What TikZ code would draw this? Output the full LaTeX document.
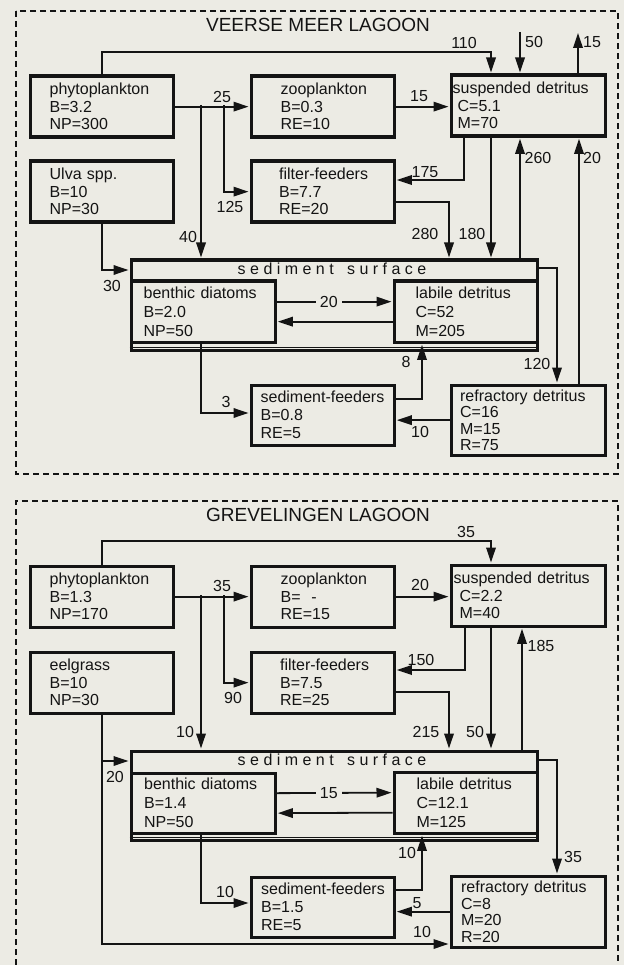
\documentclass[tikz,border=0pt]{standalone}
\usepackage{fontspec}
\setmainfont{Liberation Sans}
\usetikzlibrary{arrows.meta}

\definecolor{paper}{RGB}{236,235,228}
\definecolor{ink}{RGB}{20,20,20}

\tikzset{
  box/.style={draw=ink, line width=3.3pt, anchor=north west, inner sep=0pt,
    align=left, text=ink, font=\fontsize{16}{17.5}\selectfont},
  lskip/.style={execute at begin node={\leftskip=#1\relax}},
  flow/.style={draw=ink, line width=1.8pt, -{Triangle[length=15pt,width=9.5pt]}, shorten >=1pt},
  num/.style={text=ink, inner sep=0pt, font=\fontsize{16}{18}\selectfont},
  title/.style={text=ink, inner sep=0pt, font=\fontsize{19}{22}\selectfont},
  frame/.style={draw=ink, line width=1.3pt, dash pattern=on 6pt off 4pt},
}

\begin{document}
\begin{tikzpicture}[x=1pt, y=-1pt]
  \useasboundingbox (0,0) rectangle (624,965);
  \fill[paper] (0,0) rectangle (624,965);

  % Veerse Meer
  \begin{scope}[name prefix=v-]
    \draw[frame] (16,11) rectangle (618,474);
    \node[title] (name) at (318,25) {VEERSE MEER LAGOON};

    \node[box, text width=143pt, minimum height=61pt, lskip=19.5pt] (phyto) at (28.5,74.5) {phytoplankton\\B=3.2\\NP=300};
    \node[box, text width=143pt, minimum height=61pt, lskip=29.5pt] (zoo) at (249.5,74.5) {zooplankton\\B=0.3\\RE=10};
    \node[box, text width=154pt, minimum height=61pt, lskip=1.5pt] (susp) at (449.5,73.5) {suspended detritus\\\hspace*{5pt}C=5.1\\\hspace*{5pt}M=70};
    \node[box, text width=143pt, minimum height=61pt, lskip=19.5pt] (ulva) at (28.5,159.5) {Ulva spp.\\B=10\\NP=30};
    \node[box, text width=143pt, minimum height=61pt, lskip=28pt] (filt) at (249.5,159.5) {filter-feeders\\B=7.7\\RE=20};

    \node[box, text width=406pt, minimum height=90pt] (sed) at (129.5,258.5) {};
    \draw[ink, line width=1pt] ([yshift=4.5pt]sed.south west) -- ([yshift=4.5pt]sed.south east);
    \node[num] (sedname) at (332,269) {s e d i m e n t \ \ s u r f a c e};
    \node[box, text width=144pt, minimum height=61pt, lskip=12.5pt, font=\fontsize{16}{19}\selectfont] (benth) at (129.5,279.5) {benthic diatoms\\B=2.0\\NP=50};
    \node[box, text width=143pt, minimum height=61pt, lskip=21.5pt, font=\fontsize{16}{19}\selectfont] (labile) at (392.5,279.5) {labile detritus\\C=52\\M=205};

    \node[box, text width=143pt, minimum height=60pt, lskip=9.5pt, font=\fontsize{16}{18}\selectfont] (sedf) at (249.5,383.5) {sediment-feeders\\B=0.8\\RE=5};
    \node[box, text width=154pt, minimum height=70pt, lskip=9pt, font=\fontsize{16}{16.5}\selectfont] (refr) at (449.5,383.5) {refractory detritus\\C=16\\M=15\\R=75};

    \coordinate (top) at (491,52);
    \coordinate (in50) at (520,32);
    \coordinate (out15) at (578,32);
    \coordinate (j40) at (201,105);
    \coordinate (j125) at (224,105);
    \coordinate (c175) at (464,180);
    \coordinate (c280) at (449,202);
    \coordinate (c180) at (491,200);
    \coordinate (c260) at (520,200);
    \coordinate (c20) at (579,200);
    \coordinate (c30) at (102,270);
    \coordinate (c120) at (557,268);
    \coordinate (c3) at (201,413);
    \coordinate (c8) at (422,399);

    \draw[flow] (phyto.north) |- (top) -- (top |- susp.north);
    \draw[flow] (in50) -- (in50 |- susp.north);
    \draw[flow] (out15 |- susp.north) -- (out15);
    \draw[flow] (phyto.east) -- (zoo.west);
    \draw[flow] (j40) -- (j40 |- sed.north);
    \draw[flow] (j125) |- (filt.west);
    \draw[flow] (zoo.east) -- (zoo.east -| susp.west);
    \draw[flow] (c175 |- susp.south) -- (c175) -- (c175 -| filt.east);
    \draw[flow] (filt.east |- c280) -- (c280) -- (c280 |- sed.north);
    \draw[flow] (c180 |- susp.south) -- (c180 |- sed.north);
    \draw[flow] (c260 |- sed.north) -- (c260 |- susp.south);
    \draw[flow] (c20 |- refr.north) -- (c20 |- susp.south);
    \draw[flow] (c30 |- ulva.south) -- (c30) -- (c30 -| sed.west);
    \draw[flow] ([yshift=10pt]benth.east) -- node[num, pos=0.45, fill=paper, inner xsep=4pt] (n20b) {20} ([yshift=10pt]labile.west);
    \draw[flow] ([yshift=-10pt]labile.west) -- ([yshift=-10pt]benth.east);
    \draw[flow] (sed.east |- c120) -- (c120) -- (c120 |- refr.north);
    \draw[flow] (c3 |- benth.south) -- (c3) -- (c3 -| sedf.west);
    \draw[flow] (sedf.east |- c8) -- (c8) -- (c8 |- labile.south);
    \draw[flow] (refr.west) -- (refr.west -| sedf.east);

    \node[num] (n110) at (464,43) {110};
    \node[num] (n50) at (534,42) {50};
    \node[num] (n15a) at (592,42) {15};
    \node[num] (n25) at (222,97) {25};
    \node[num] (n40) at (188,237) {40};
    \node[num] (n125) at (230,207) {125};
    \node[num] (n15b) at (419,96) {15};
    \node[num] (n175) at (425,172) {175};
    \node[num] (n280) at (425,234) {280};
    \node[num] (n180) at (472,234) {180};
    \node[num] (n260) at (538,158) {260};
    \node[num] (n20a) at (592,158) {20};
    \node[num] (n30) at (112,286) {30};
    \node[num] (n120) at (537,364) {120};
    \node[num] (n3) at (226,402) {3};
    \node[num] (n8) at (406,362) {8};
    \node[num] (n10) at (420,432) {10};
  \end{scope}

  % Grevelingen
  \begin{scope}[shift={(0,490)}, name prefix=g-]
    \draw[frame] (16,485) -- (16,11) -- (618,11) -- (618,485);
    \node[title] (name) at (318,25) {GREVELINGEN LAGOON};

    \node[box, text width=143pt, minimum height=61pt, lskip=19.5pt] (phyto) at (28.5,74.5) {phytoplankton\\B=1.3\\NP=170};
    \node[box, text width=143pt, minimum height=61pt, lskip=29.5pt] (zoo) at (249.5,74.5) {zooplankton\\B=\ \ -\\RE=15};
    \node[box, text width=154pt, minimum height=61pt, lskip=2.5pt] (susp) at (449.5,73.5) {suspended detritus\\\hspace*{6pt}C=2.2\\\hspace*{6pt}M=40};
    \node[box, text width=143pt, minimum height=61pt, lskip=19.5pt] (eel) at (28.5,160.5) {eelgrass\\B=10\\NP=30};
    \node[box, text width=143pt, minimum height=61pt, lskip=29pt] (filt) at (249.5,160.5) {filter-feeders\\B=7.5\\RE=25};

    \node[box, text width=406pt, minimum height=89pt] (sed) at (129.5,259.5) {};
    \draw[ink, line width=1pt] ([yshift=4.5pt]sed.south west) -- ([yshift=4.5pt]sed.south east);
    \node[num] (sedname) at (332,270) {s e d i m e n t \ \ s u r f a c e};
    \node[box, text width=144pt, minimum height=60pt, lskip=13pt, font=\fontsize{16}{19}\selectfont] (benth) at (129.5,281.5) {benthic diatoms\\B=1.4\\NP=50};
    \node[box, text width=143pt, minimum height=61pt, lskip=22.5pt, font=\fontsize{16}{19}\selectfont] (labile) at (392.5,280.5) {labile detritus\\C=12.1\\M=125};

    \node[box, text width=143pt, minimum height=60pt, lskip=10pt, font=\fontsize{16}{18}\selectfont] (sedf) at (249.5,385.5) {sediment-feeders\\B=1.5\\RE=5};
    \node[box, text width=154pt, minimum height=71pt, lskip=10pt, font=\fontsize{16}{16.5}\selectfont] (refr) at (449.5,384.5) {refractory detritus\\C=8\\M=20\\R=20};

    \coordinate (top) at (491,51);
    \coordinate (j10) at (201,105);
    \coordinate (j90) at (224,105);
    \coordinate (c150) at (465,180);
    \coordinate (c215) at (449,202);
    \coordinate (c50) at (491,200);
    \coordinate (c185) at (522,200);
    \coordinate (c20) at (102,271);
    \coordinate (c10) at (102,454);
    \coordinate (c35) at (557,270);
    \coordinate (c10b) at (201,413);
    \coordinate (c10c) at (422,400);

    \draw[flow] (phyto.north) |- (top) -- (top |- susp.north);
    \draw[flow] (phyto.east) -- (zoo.west);
    \draw[flow] (j10) -- (j10 |- sed.north);
    \draw[flow] (j90) |- (filt.west);
    \draw[flow] (zoo.east) -- (zoo.east -| susp.west);
    \draw[flow] (c150 |- susp.south) -- (c150) -- (c150 -| filt.east);
    \draw[flow] (filt.east |- c215) -- (c215) -- (c215 |- sed.north);
    \draw[flow] (c50 |- susp.south) -- (c50 |- sed.north);
    \draw[flow] (c185 |- sed.north) -- (c185 |- susp.south);
    \draw[flow] (c10 |- eel.south) -- (c10) -- (c10 -| refr.west);
    \draw[flow] (c20) -- (c20 -| sed.west);
    \draw[flow] ([yshift=10pt]benth.east) -- node[num, pos=0.45, fill=paper, inner xsep=4pt] (n15b) {15} ([yshift=10pt]labile.west);
    \draw[flow] ([yshift=-10pt]labile.west) -- ([yshift=-10pt]benth.east);
    \draw[flow] (sed.east |- c35) -- (c35) -- (c35 |- refr.north);
    \draw[flow] (c10b |- benth.south) -- (c10b) -- (c10b -| sedf.west);
    \draw[flow] (sedf.east |- c10c) -- (c10c) -- (c10c |- labile.south);
    \draw[flow] (refr.west) -- (refr.west -| sedf.east);

    \node[num] (n35a) at (466,42) {35};
    \node[num] (n35b) at (222,96) {35};
    \node[num] (n10a) at (185,242) {10};
    \node[num] (n90) at (233,208) {90};
    \node[num] (n20a) at (420,95) {20};
    \node[num] (n150) at (421,170) {150};
    \node[num] (n215) at (426,242) {215};
    \node[num] (n50) at (475,242) {50};
    \node[num] (n185) at (541,156) {185};
    \node[num] (n20b) at (115,287) {20};
    \node[num] (n35c) at (573,367) {35};
    \node[num] (n10b) at (225,402) {10};
    \node[num] (n10c) at (407,363) {10};
    \node[num] (n5) at (417,413) {5};
    \node[num] (n10d) at (422,442) {10};
  \end{scope}
\end{tikzpicture}
\end{document}
